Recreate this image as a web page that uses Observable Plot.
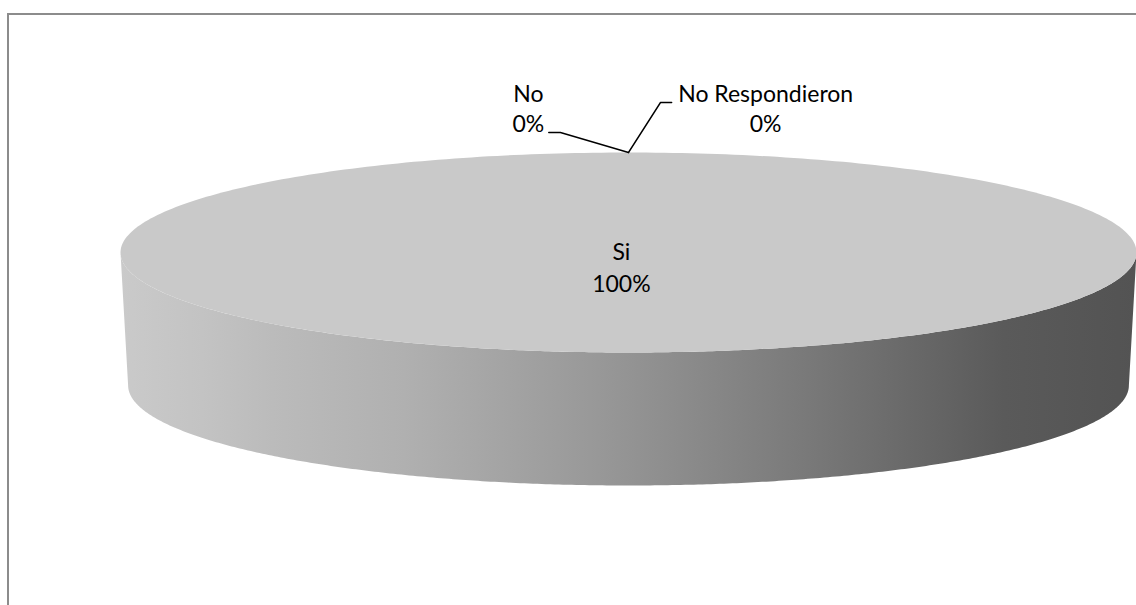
<!DOCTYPE html>
<html>
<head>
<meta charset="utf-8">
<script src="https://cdn.jsdelivr.net/npm/d3@7"></script>
<script src="https://cdn.jsdelivr.net/npm/@observablehq/plot@0.6"></script>
<style>
  html, body { margin: 0; padding: 0; background: #fff; overflow: hidden; }
  #wrap { position: relative; width: 1136px; height: 605px; overflow: hidden; }
  #border { position: absolute; left: 7px; top: 13px; width: 1300px; height: 800px;
            border: 2px solid #8c8c8c; box-sizing: border-box; }
  #chart { position: absolute; left: 0; top: 0; }
</style>
</head>
<body>
<div id="wrap"><div id="border"></div><div id="chart"></div></div>
<script>
// ---- data ----
const categories = ["Si", "No", "No Respondieron"];
const values = [100, 0, 0];

// ---- derived ----
const total = d3.sum(values);
const percents = values.map(v => Math.round(v / total * 100) + "%");
const arcs = d3.pie().sort(null).value(d => d)(values);

// geometry of the 3D pie in chart units (x: radius = 1, y: top ellipse semi-axis = 1)
const depth = 1.33, bottomScale = 0.985;
const N = 360;
const topPts = [], sidePts = [];
arcs.forEach((a, i) => {
  if (a.endAngle - a.startAngle <= 0) return;
  const pts = [];
  for (let k = 0; k <= N; k++) {
    const t = a.startAngle + (a.endAngle - a.startAngle) * k / N;
    pts.push({slice: categories[i], x: Math.sin(t), y: Math.cos(t)});
  }
  if (a.endAngle - a.startAngle < 2 * Math.PI - 1e-9) {
    pts.unshift({slice: categories[i], x: 0, y: 0});
    pts.push({slice: categories[i], x: 0, y: 0});
  }
  topPts.push(...pts);
  // visible front wall: angles between PI/2 and 3PI/2
  const s = Math.max(a.startAngle, Math.PI / 2), e = Math.min(a.endAngle, 3 * Math.PI / 2);
  if (e > s) {
    for (let k = 0; k <= N; k++) {
      const t = s + (e - s) * k / N;
      sidePts.push({slice: categories[i], x: Math.sin(t), y: Math.cos(t)});
    }
    for (let k = N; k >= 0; k--) {
      const t = s + (e - s) * k / N;
      sidePts.push({slice: categories[i], x: bottomScale * Math.sin(t), y: Math.cos(t) - depth});
    }
  }
});

// label layout (positions in chart units)
const inside = {dx: -0.014, nameY: 0.0, pctY: -0.32};
const outside = {
  "No": {lx: -0.197, nameY: 1.58, pctY: 1.28, elbow: [-0.134, 1.20], end: [-0.157, 1.20]},
  "No Respondieron": {lx: 0.27, nameY: 1.58, pctY: 1.28, elbow: [0.063, 1.50], end: [0.085, 1.50]}
};

const labels = [], leaders = [];
arcs.forEach((a, i) => {
  const name = categories[i];
  if (values[i] > 0) {
    labels.push({x: inside.dx, y: inside.nameY, text: name});
    labels.push({x: inside.dx, y: inside.pctY, text: percents[i]});
  } else {
    const o = outside[name];
    const mid = (a.startAngle + a.endAngle) / 2;
    labels.push({x: o.lx, y: o.nameY, text: name});
    labels.push({x: o.lx, y: o.pctY, text: percents[i]});
    leaders.push({id: name, x: o.end[0], y: o.end[1]});
    leaders.push({id: name, x: o.elbow[0], y: o.elbow[1]});
    leaders.push({id: name, x: Math.sin(mid), y: Math.cos(mid)});
  }
});

const chart = Plot.plot({
  width: 1136,
  height: 605,
  margin: 0,
  x: {domain: [-628 / 508, 508 / 508], axis: null},
  y: {domain: [-3.53, 2.52], axis: null},
  style: {background: "transparent", fontFamily: "Lato, 'Open Sans', sans-serif"},
  marks: [
    Plot.line(sidePts, {x: "x", y: "y", z: "slice", fill: "url(#sideGrad)", stroke: "none", curve: "linear"}),
    Plot.line(topPts, {x: "x", y: "y", z: "slice", fill: "#c9c9c9", stroke: "none", curve: "linear"}),
    Plot.line(leaders, {x: "x", y: "y", z: "id", stroke: "#000", strokeWidth: 1.4, curve: "linear"}),
    Plot.text(labels, {x: "x", y: "y", text: "text", fill: "#000", fontSize: 23, textAnchor: "middle", lineAnchor: "middle"})
  ]
});

const defs = d3.select(chart).insert("defs", ":first-child");
const g = defs.append("linearGradient").attr("id", "sideGrad")
  .attr("x1", 0).attr("x2", 1).attr("y1", 0).attr("y2", 0);
[[0, "#cacaca"], [0.08, "#c3c3c3"], [0.15, "#bbbbbb"], [0.28, "#b0b0b0"],
 [0.47, "#989898"], [0.67, "#7a7a7a"], [0.77, "#6a6a6a"], [0.87, "#5a5a5a"], [1, "#535353"]]
  .forEach(([o, c]) => g.append("stop").attr("offset", o).attr("stop-color", c));

document.getElementById("chart").appendChild(chart);
</script>
</body>
</html>
